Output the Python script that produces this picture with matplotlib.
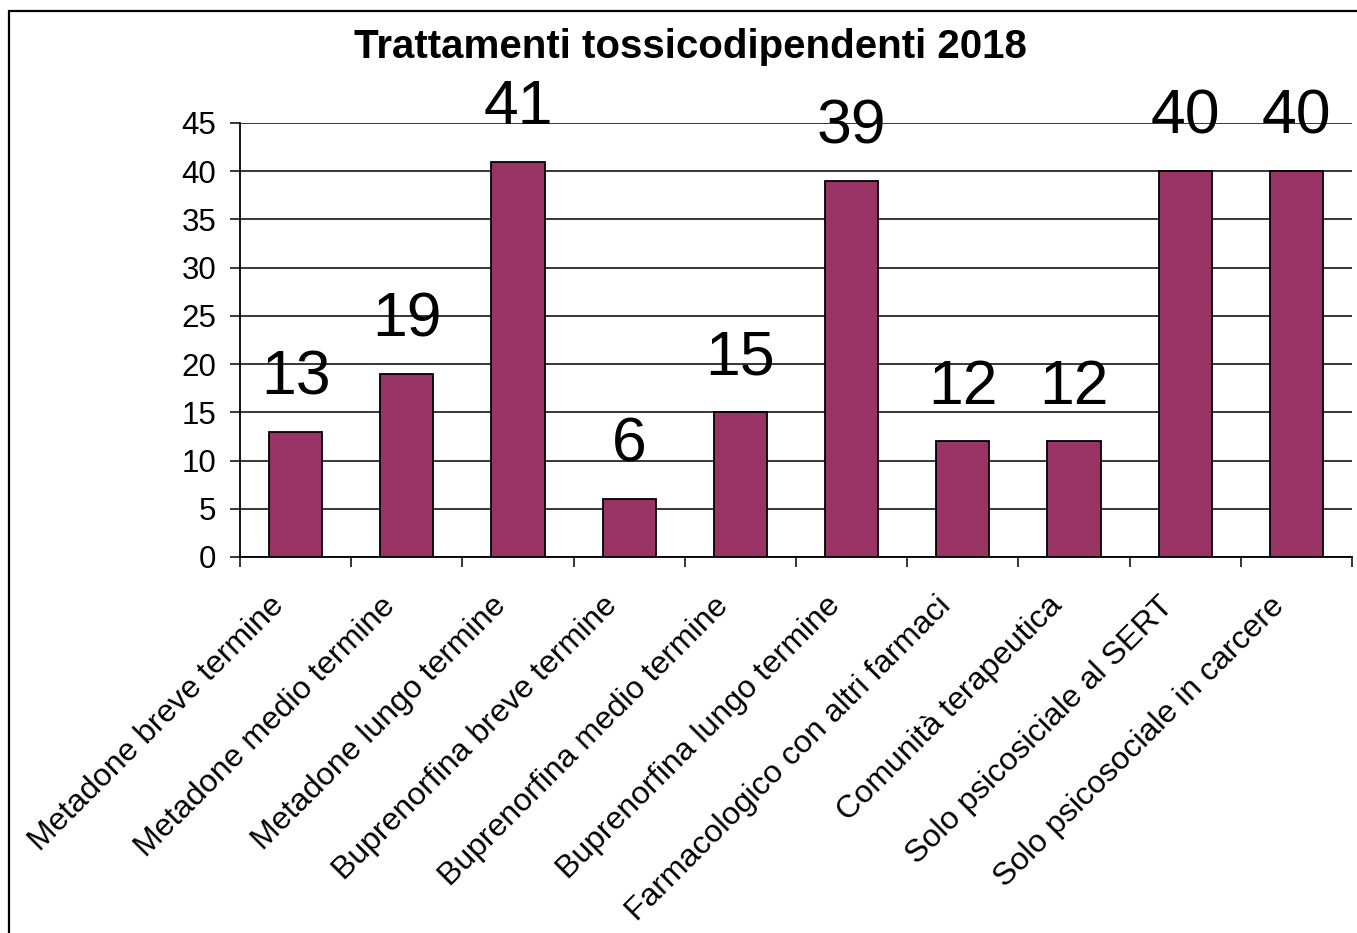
import matplotlib
matplotlib.use('Agg')
import matplotlib.pyplot as plt
from matplotlib.patches import Rectangle
from matplotlib.transforms import ScaledTranslation

# dati del grafico
categorie = [
    "Metadone breve termine",
    "Metadone medio termine",
    "Metadone lungo termine",
    "Buprenorfina breve termine",
    "Buprenorfina medio termine",
    "Buprenorfina lungo termine",
    "Farmacologico con altri farmaci",
    "Comunità terapeutica",
    "Solo psicosiciale al SERT",
    "Solo psicosociale in carcere",
]
valori = [13, 19, 41, 6, 15, 39, 12, 12, 40, 40]
y_ticks = [0, 5, 10, 15, 20, 25, 30, 35, 40, 45]
titolo = "Trattamenti tossicodipendenti 2018"

plt.rcParams['font.family'] = ['Liberation Sans', 'DejaVu Sans']

W, H = 1357, 933
fig = plt.figure(figsize=(W / 100, H / 100), dpi=100)
ax = fig.add_axes([240 / W, 1 - 557 / H, (1352 - 240) / W, (557 - 123) / H])

# cornice esterna del grafico (tagliata a destra e in basso)
fig.patches.append(Rectangle((9 / W, -0.1), 1.2, 1 - 11 / H + 0.1,
                             transform=fig.transFigure, fill=False,
                             edgecolor='black', linewidth=1.6, zorder=0))

x = list(range(len(categorie)))
ax.set_axisbelow(True)
ax.bar(x, valori, width=0.48, color='#993366', edgecolor='black', linewidth=1.3, zorder=3)

for xi, v in zip(x, valori):
    ax.annotate(str(v), (xi, v), xytext=(0, 27), textcoords='offset points',
                ha='center', va='baseline', fontsize=45, zorder=4)

ax.set_xlim(-0.5, len(categorie) - 0.5)
ax.set_ylim(0, 45)
ax.set_yticks(y_ticks)
ax.yaxis.grid(True, color='black', linewidth=1.1)
ax.tick_params(axis='y', labelsize=22.5, length=7, width=1.1, pad=10, direction='out')

ax.set_xticks(x)
ax.set_xticklabels(categorie, rotation=45, ha='right', va='center',
                   rotation_mode='anchor', fontsize=23)
ax.tick_params(axis='x', which='major', length=0, pad=32)
# spostamento a sinistra delle etichette ruotate
sposta = ScaledTranslation(-16 / 100, 0, fig.dpi_scale_trans)
for lab in ax.get_xticklabels():
    lab.set_transform(lab.get_transform() + sposta)
ax.set_xticks([i - 0.5 for i in range(len(categorie) + 1)], minor=True)
ax.tick_params(axis='x', which='minor', length=7, width=1.1, direction='out')

for s in ['top', 'right']:
    ax.spines[s].set_visible(False)
for s in ['left', 'bottom']:
    ax.spines[s].set_linewidth(1.3)

fig.text(690 / W, 1 - 47 / H, titolo, ha='center', va='center',
         fontsize=29, fontweight='bold')

fig.savefig('out.png', dpi=100)
